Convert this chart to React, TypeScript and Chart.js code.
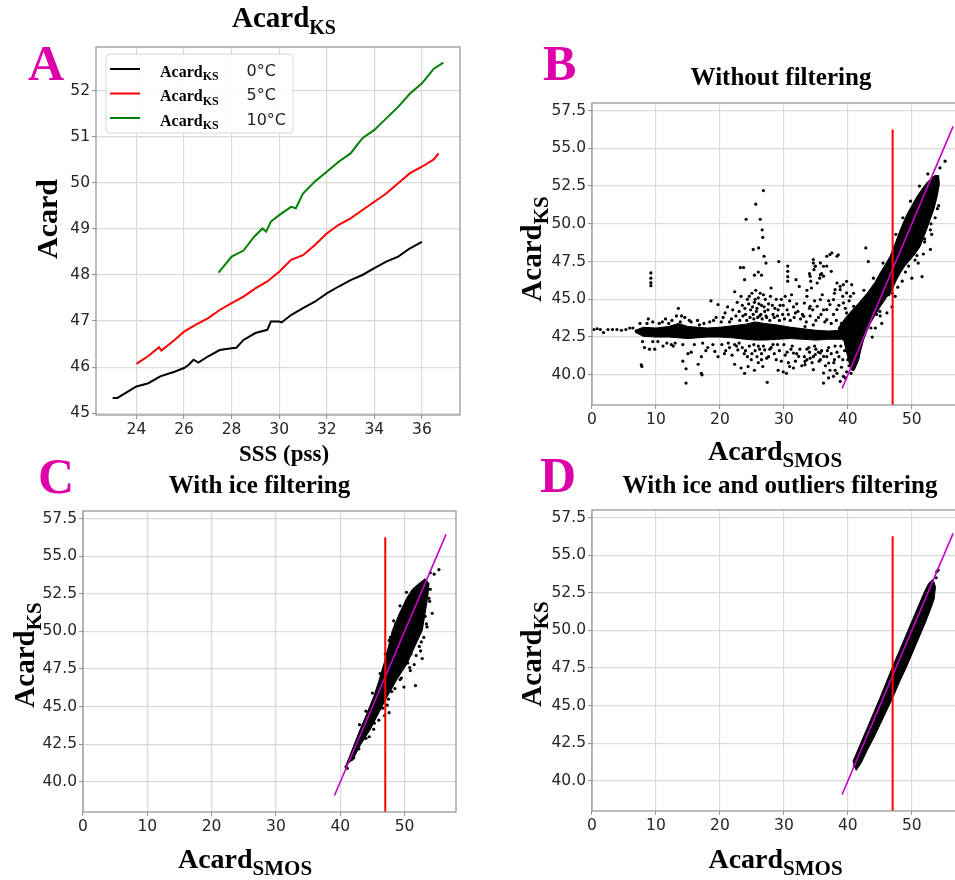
import React, { useEffect, useRef } from "react";
import { Chart, registerables } from "chart.js";

Chart.register(...registerables);

const SERIF = '"Liberation Serif", "Times New Roman", Times, serif';
const SANS = '"DejaVu Sans", sans-serif';
const LETTER_COLOR = "#dd00aa";
const TICK_COLOR = "#262626";
const GRID_COLOR = "#dadada";
const SPINE_COLOR = "#8f8f8f";
const ONE_TO_ONE_COLOR = "#c800c8";

// ---------------- Panel A : Acard_KS vs SSS ----------------
const SSS_0C = [23.0, 23.2, 24, 24.5, 25, 25.6, 26, 26.2, 26.4, 26.6, 27, 27.5, 28, 28.2, 28.5, 29, 29.5, 29.65, 30, 30.1, 30.5, 31, 31.5, 32, 32.5, 33, 33.5, 34, 34.5, 35, 35.5, 36];
const ACARD_0C = [45.33, 45.33, 45.58, 45.65, 45.8, 45.9, 45.98, 46.05, 46.16, 46.1, 46.23, 46.37, 46.41, 46.42, 46.59, 46.74, 46.81, 46.99, 46.99, 46.97, 47.13, 47.28, 47.42, 47.6, 47.75, 47.89, 48.0, 48.15, 48.29, 48.4, 48.58, 48.72];
const SSS_5C = [24, 24.5, 24.95, 25.05, 25.6, 26, 26.5, 27, 27.5, 28, 28.5, 29, 29.5, 30, 30.5, 31, 31.5, 32, 32.5, 33, 33.5, 34, 34.5, 35, 35.5, 36, 36.5, 36.7];
const ACARD_5C = [46.07, 46.24, 46.43, 46.36, 46.59, 46.77, 46.92, 47.06, 47.24, 47.39, 47.53, 47.71, 47.86, 48.07, 48.33, 48.43, 48.65, 48.9, 49.09, 49.23, 49.41, 49.59, 49.77, 49.99, 50.21, 50.35, 50.51, 50.64];
const SSS_10C = [27.45, 28, 28.5, 28.95, 29.3, 29.45, 29.65, 30, 30.5, 30.7, 31, 31.5, 32, 32.5, 33, 33.5, 34, 34.5, 35, 35.5, 36, 36.5, 36.9];
const ACARD_10C = [48.05, 48.4, 48.53, 48.83, 49.01, 48.94, 49.16, 49.3, 49.48, 49.45, 49.77, 50.03, 50.24, 50.46, 50.64, 50.97, 51.15, 51.4, 51.65, 51.94, 52.16, 52.48, 52.61];
const LEGEND_TEMPS = ["0°C", "5°C", "10°C"];
const A_X_TICKS = [24, 26, 28, 30, 32, 34, 36];
const A_Y_TICKS = [45, 46, 47, 48, 49, 50, 51, 52];

// ---------------- Panels B, C, D : Acard_KS vs Acard_SMOS ----------------
const SMOS_X_TICKS = [0, 10, 20, 30, 40, 50];
const KS_Y_TICKS = [40, 42.5, 45, 47.5, 50, 52.5, 55, 57.5];
const ONE_TO_ONE = [39.1, 56.45];
const THRESHOLD_X = 47;
const THRESHOLD_Y = [38, 56.25];

const B_POINTS: [number, number][] = [
  [0.3, 43.0], [0.8, 43.05], [1.3, 43.0], [1.8, 42.8], [2.5, 43.0], [3.2, 43.0], [3.9, 43.0], [4.6, 42.95], [5.3, 43.0], [5.9, 43.1], [6.4, 43.1], [6.9, 42.9],
  [7.5, 43.4], [8.8, 43.7], [9.5, 43.5], [11.0, 43.5], [12.0, 43.4], [13.2, 43.9], [13.5, 44.4], [14.0, 43.9], [14.5, 43.8], [15.5, 43.5], [16.5, 43.6], [17.5, 43.4], [18.6, 44.9], [19.7, 44.65], [19.0, 43.6], [20.5, 43.8], [21.2, 44.5], [21.5, 43.5], [22.3, 45.5], [22.5, 43.9], [23.0, 44.2], [23.5, 44.6], [24.0, 44.0], [24.3, 45.0], [24.6, 45.2], [24.8, 44.3], [25.2, 44.0], [25.4, 44.8], [25.6, 45.6], [25.8, 44.4], [26.0, 45.1], [26.2, 43.9], [26.5, 44.6], [26.8, 45.3], [27.0, 44.2], [27.3, 43.8], [27.6, 44.7], [28.0, 45.75], [28.3, 44.0], [28.6, 44.4], [29.0, 43.9], [29.4, 44.6], [29.8, 44.0], [30.2, 45.2], [30.5, 44.3], [30.9, 44.9], [31.5, 44.5], [31.8, 44.1], [32.4, 45.85], [32.6, 43.7], [33.2, 44.75], [33.3, 43.2], [33.6, 45.6], [34.0, 44.4], [34.1, 43.9], [34.5, 44.3], [34.6, 43.3], [35.4, 43.8], [36.2, 44.3], [36.7, 43.65], [37.2, 44.65], [37.75, 44.0],
  [20.2, 43.5], [20.8, 44.1], [21.8, 43.7], [22.0, 44.3], [22.7, 44.8], [23.1, 43.6], [23.3, 45.2], [23.6, 43.9], [23.9, 44.4], [24.2, 43.6], [24.5, 44.7], [24.7, 43.8], [25.0, 45.4], [25.1, 44.5], [25.3, 43.7], [25.5, 45.0], [25.7, 44.2], [25.9, 43.8], [26.1, 44.7], [26.3, 45.4], [26.4, 44.0], [26.6, 43.7], [26.9, 44.5], [27.1, 45.0], [27.2, 43.9], [27.5, 44.3], [27.8, 43.6], [27.9, 45.2], [28.2, 44.6], [28.5, 43.8], [28.8, 45.0], [29.1, 44.3], [29.3, 43.6], [29.6, 45.0], [29.9, 44.6], [30.1, 43.7], [30.7, 44.0], [31.0, 43.6], [31.2, 45.3], [31.6, 43.8], [32.0, 44.7], [32.2, 44.2],
  [10.5, 43.4], [11.5, 43.7], [12.5, 43.6], [13.0, 42.1], [13.8, 43.5], [14.2, 42.0], [15.2, 43.6], [16.0, 42.0], [16.8, 43.3], [17.3, 42.1], [17.8, 41.6], [18.4, 43.5], [18.9, 42.0], [19.4, 43.8], [11.7, 42.1], [9.5, 42.2], [8.6, 43.4], [7.9, 42.2],
  [32.9, 44.0], [33.5, 43.5], [34.8, 44.9], [35.0, 43.6], [35.8, 44.0], [36.0, 45.3], [36.4, 43.5], [37.0, 44.9], [37.4, 43.4], [37.9, 45.4], [38.2, 43.6], [38.6, 44.6], [39.0, 43.4], [39.2, 45.2], [39.6, 44.4], [40.0, 43.5], [40.2, 44.9],
  [8.2, 41.8], [9.0, 41.7], [9.8, 41.7], [10.3, 42.2], [11.1, 41.9], [12.4, 42.0], [12.7, 41.9], [15.0, 41.4], [15.5, 41.5], [16.6, 40.7], [17.1, 41.2], [18.1, 41.8], [19.2, 41.55], [19.7, 41.2], [20.7, 41.4], [21.5, 41.8], [22.3, 42.0], [22.8, 41.65], [23.8, 41.4], [24.3, 41.2], [24.9, 41.0], [25.5, 41.6], [26.0, 41.9], [26.5, 41.4], [27.0, 41.65], [27.6, 41.2], [28.8, 41.0], [30.0, 42.0], [30.5, 41.5], [31.3, 41.9], [31.5, 41.44], [32.0, 41.4], [32.3, 41.22], [33.2, 41.2], [33.3, 40.89], [34.0, 41.5], [34.1, 41.1], [34.8, 41.9], [34.9, 41.33], [35.4, 41.5], [35.7, 41.0], [36.2, 41.22], [37.0, 40.78], [29.0, 42.0], [28.0, 41.8],
  [20.3, 42.0], [20.9, 41.6], [21.3, 42.1], [21.9, 41.3], [22.6, 41.9], [23.0, 42.1], [23.5, 41.8], [24.0, 41.6], [24.6, 41.9], [25.0, 41.4], [25.3, 42.0], [25.8, 41.2], [26.2, 41.7], [26.8, 41.9], [27.3, 41.1], [27.8, 41.7], [28.3, 42.0], [28.5, 41.4], [29.3, 41.6], [29.6, 40.9], [30.2, 41.3], [30.7, 40.8], [31.1, 41.7], [31.8, 40.9], [32.5, 41.7], [32.8, 40.6], [33.6, 41.0], [33.9, 41.8], [34.4, 40.8], [35.0, 41.7], [35.9, 41.6], [36.5, 40.6], [36.8, 41.6], [37.4, 41.4], [37.9, 41.0], [38.3, 41.5],
  [7.7, 40.66], [7.8, 40.55], [14.2, 40.9], [14.7, 40.4], [14.7, 39.45], [17.1, 40.1], [17.2, 40.0], [22.3, 40.7], [23.3, 40.45], [23.85, 40.1], [24.4, 40.55], [25.4, 40.3], [26.0, 40.8], [26.5, 41.0], [26.7, 40.55], [27.4, 39.5], [29.1, 40.3], [29.9, 40.2], [30.4, 40.1], [30.9, 40.55], [31.5, 40.45], [33.3, 40.67], [34.6, 40.34], [36.2, 40.12], [36.98, 39.79], [37.75, 39.9], [38.8, 39.56], [39.6, 39.79], [36.2, 39.45], [35.5, 40.9], [38.0, 40.3],
  [9.2, 46.75], [9.2, 46.4], [9.2, 46.1], [9.2, 45.9], [23.2, 47.1], [23.7, 47.1], [24.1, 50.3], [25.2, 48.3], [25.6, 51.3], [26.05, 48.4], [26.3, 50.3], [26.6, 49.6], [26.7, 49.1], [26.8, 52.2], [26.9, 47.85], [27.2, 47.4], [25.4, 46.6], [26.0, 46.8], [26.5, 46.6], [23.85, 46.3], [29.2, 47.5], [30.6, 47.2], [30.6, 46.85], [30.6, 46.5], [30.6, 46.2], [31.9, 46.3], [34.0, 46.7], [34.2, 46.2], [34.3, 45.75], [34.6, 47.4], [34.7, 46.96], [34.9, 47.2], [35.6, 46.4], [35.7, 46.63], [36.2, 47.19], [36.7, 47.2], [36.7, 47.85], [37.2, 47.96], [37.4, 46.85], [35.9, 46.7], [38.3, 46.08], [38.8, 45.64], [39.3, 45.97], [39.8, 46.19], [40.6, 45.97], [40.9, 45.4], [34.6, 47.63], [35.7, 47.41], [34.9, 47.19], [34.1, 46.53], [35.2, 46.08], [36.2, 46.53], [37.5, 48.07], [38.3, 47.85], [38.5, 47.95], [38.0, 45.64], [38.8, 45.86], [39.8, 45.42], [37.75, 44.98], [39.3, 44.76], [40.4, 45.2], [38.3, 44.32], [39.8, 44.1], [40.9, 44.54], [35.7, 44.98], [35.2, 44.54], [36.7, 44.32], [33.6, 45.2], [34.1, 44.54], [33.1, 43.87], [42.8, 48.4], [43.2, 47.5],
  [54.4, 53.7], [55.2, 54.15], [53.65, 50.4], [52.9, 49.6], [53.1, 49.3], [52.9, 48.3], [51.0, 47.4], [51.6, 46.5], [50.0, 46.4], [54.2, 51.2], [46.9, 45.4], [47.4, 45.2], [46.9, 44.5], [45.3, 43.4], [45.05, 43.9], [46.1, 44.1], [53.8, 52.0], [54.0, 52.5], [52.0, 48.8], [49.0, 46.8], [48.5, 46.2], [47.8, 45.8], [44.3, 43.1], [43.8, 42.5], [44.5, 44.0], [50.5, 47.6], [51.8, 48.0],
  [47.5, 49.3], [48.6, 50.4], [49.8, 51.5], [51.2, 52.5], [52.5, 53.3], [45.5, 47.4], [44.0, 46.4], [42.5, 45.6], [49.5, 47.2], [50.8, 47.9], [52.0, 49.0], [53.0, 50.0], [54.0, 51.0], [46.4, 45.3], [45.0, 44.2], [43.6, 43.1],
  [37.8, 40.8], [36.7, 41.2], [35.7, 41.45], [34.6, 41.2], [33.6, 41.7], [38.3, 40.1], [37.2, 40.3], [39.3, 39.9], [39.0, 40.5], [38.6, 41.2], [39.5, 41.6], [40.2, 40.6], [40.0, 41.0], [37.0, 41.8], [38.0, 41.9], [39.8, 40.2], [40.5, 40.1], [39.2, 41.0], [38.9, 41.9], [39.4, 42.4], [40.7, 40.6],
];
const B_BAND: [number, number][] = [
  [6.8, 42.95], [8, 43.15], [10, 43.1], [12, 43.2], [13.5, 43.4], [15, 43.2], [18, 43.1], [20, 43.15], [22, 43.25], [24, 43.35], [25.5, 43.5], [27, 43.4], [29, 43.3], [31, 43.15], [33, 43.05], [35, 42.95], [37, 42.9], [39, 42.95], [40.5, 43.15],
  [40.5, 42.15], [39, 42.35], [37, 42.35], [35, 42.3], [33, 42.35], [31, 42.4], [29, 42.35], [27, 42.3], [25.5, 42.3], [24, 42.35], [22, 42.45], [20, 42.5], [18, 42.5], [15, 42.4], [12, 42.5], [10, 42.5], [8, 42.55], [6.8, 42.8],
];
const B_RISE: [number, number][] = [
  [38.5, 43.1], [39.5, 43.7], [40.5, 44.2], [41.8, 44.8], [43.0, 45.4], [44.2, 46.1], [45.05, 46.75], [46.0, 47.4], [46.6, 47.85], [47.4, 48.7], [48.2, 49.6], [49.2, 50.6], [50.0, 51.2], [50.8, 51.8], [51.6, 52.3], [52.3, 52.7], [53.0, 53.0], [53.6, 53.2], [54.2, 53.2],
  [54.3, 52.6], [53.9, 51.7], [53.4, 50.9], [52.8, 50.2], [52.3, 49.6], [51.3, 48.5], [50.5, 48.0], [49.7, 47.6], [48.9, 47.2], [48.2, 46.75], [47.5, 46.2], [46.9, 45.6], [46.0, 45.1], [45.05, 44.5], [44.2, 43.9], [43.5, 43.4], [42.9, 42.8], [42.45, 42.3], [42.0, 41.6], [41.7, 41.0], [41.4, 40.7], [41.0, 40.3], [40.6, 40.3], [40.2, 40.8], [39.8, 41.5], [39.4, 42.2], [38.6, 42.7],
];

const C_POINTS: [number, number][] = [
  [55.35, 54.1], [54.6, 53.8], [54.0, 53.9], [54.3, 51.2], [53.5, 50.3], [53.0, 49.6], [52.75, 48.2], [51.7, 46.4], [49.9, 46.3], [47.6, 44.6], [47.3, 45.1], [46.9, 44.4], [47.5, 45.5], [46.0, 44.1], [45.2, 43.5], [44.5, 43.0], [43.9, 42.9], [42.9, 42.2], [42.1, 41.6], [41.1, 40.9], [50.9, 47.4], [52.5, 48.7], [51.5, 47.8], [48.5, 46.2], [49.3, 46.8], [50.5, 47.9], [53.8, 52.2], [54.0, 52.8], [52.3, 49.0], [48.6, 50.5], [47.8, 49.6], [44.0, 43.6], [43.2, 43.0], [46.4, 45.2], [45.5, 44.6], [41.8, 41.5], [40.9, 41.0], [53.2, 51.0], [49.0, 47.4], [51.0, 48.5],
  [45.0, 45.9], [46.2, 47.2], [47.0, 48.5], [47.6, 49.4], [48.3, 50.7], [49.3, 51.7], [50.3, 52.6], [44.0, 44.7], [43.0, 43.8], [53.9, 52.0], [53.4, 50.5], [52.6, 49.3], [51.8, 48.4], [50.8, 47.6], [49.5, 46.9], [48.0, 46.0], [46.6, 44.9], [45.3, 43.9], [44.0, 42.9],
];
const C_CLOUD: [number, number][] = [
  [40.9, 41.1], [42.0, 42.3], [43.1, 43.5], [44.2, 44.6], [45.2, 45.66], [46.0, 46.7], [46.8, 47.86], [47.5, 49.0], [48.1, 50.06], [49.2, 51.2], [50.4, 52.26], [51.2, 52.8], [52.0, 53.1], [53.2, 53.5],
  [53.8, 53.2], [53.6, 52.26], [53.2, 51.2], [52.75, 50.06], [51.6, 49.0], [50.4, 47.86], [48.8, 46.8], [47.3, 45.66], [46.0, 44.6], [44.7, 43.5], [43.2, 42.5], [42.0, 41.5],
];

const D_POINTS: [number, number][] = [
  [53.9, 53.9], [54.1, 54.0], [53.8, 53.5], [41.0, 41.0], [41.5, 41.6], [42.1, 42.0], [42.6, 42.6], [43.2, 43.1], [43.5, 42.8], [44.2, 43.5], [44.8, 44.2], [41.3, 40.9], [42.8, 42.3], [52.4, 51.6],
];
const D_CLOUD: [number, number][] = [
  [40.8, 41.3], [42.0, 42.5], [43.0, 43.5], [44.0, 44.5], [45.0, 45.5], [46.0, 46.55], [47.0, 47.6], [48.0, 48.6], [49.0, 49.6], [50.0, 50.6], [51.0, 51.6], [52.0, 52.6], [52.6, 53.1], [53.3, 53.4],
  [53.7, 52.9], [53.5, 52.1], [53.1, 51.6], [52.1, 50.5], [51.1, 49.5], [50.1, 48.5], [49.1, 47.5], [48.1, 46.6], [47.1, 45.6], [46.1, 44.7], [45.1, 43.8], [44.1, 42.9], [43.1, 42.1], [42.1, 41.2], [41.3, 40.7],
];

// ---------------- helpers ----------------
type Txt = {
  main: string; sub?: string; x: number; y: number; size: number; subSize?: number;
  rotate?: boolean; align?: "center" | "left"; color?: string; family?: string; weight?: string;
};

function drawRich(ctx: CanvasRenderingContext2D, t: Txt) {
  const family = t.family || SERIF;
  const weight = t.weight || "bold";
  const subSize = t.subSize || Math.round(t.size * 0.7);
  ctx.save();
  ctx.translate(t.x, t.y);
  if (t.rotate) ctx.rotate(-Math.PI / 2);
  ctx.fillStyle = t.color || "#000";
  ctx.textBaseline = "alphabetic";
  ctx.textAlign = "left";
  const mainFont = `${weight} ${t.size}px ${family}`;
  const subFont = `${weight} ${subSize}px ${family}`;
  ctx.font = mainFont;
  const w1 = ctx.measureText(t.main).width;
  let w2 = 0;
  if (t.sub) { ctx.font = subFont; w2 = ctx.measureText(t.sub).width; }
  const sx = (t.align || "center") === "center" ? -(w1 + w2) / 2 : 0;
  ctx.font = mainFont;
  ctx.fillText(t.main, sx, 0);
  if (t.sub) { ctx.font = subFont; ctx.fillText(t.sub, sx + w1, subSize * 0.33); }
  ctx.restore();
}

function axisOpts(min: number, max: number, ticks: number[], fmt: (v: number) => string, fit: (s: any) => void) {
  return {
    type: "linear",
    min, max,
    afterBuildTicks: (s: any) => { s.ticks = ticks.map((v) => ({ value: v })); },
    afterFit: fit,
    ticks: {
      autoSkip: false, maxRotation: 0, minRotation: 0, padding: 2, color: TICK_COLOR,
      font: { family: SANS, size: 15.5 },
      callback: (v: any) => fmt(Number(v)),
    },
    grid: { color: GRID_COLOR, lineWidth: 1.2, drawTicks: true, tickLength: 4, tickColor: SPINE_COLOR, tickWidth: 1 },
    border: { display: false },
  };
}

type Spec = {
  left: number; top: number; w: number; h: number;
  area: { l: number; t: number; r: number; b: number };
  xMin: number; xMax: number; yMin: number; yMax: number;
  xTicks: number[]; yTicks: number[]; yFmt: (v: number) => string;
  datasets: any[]; polygons?: [number, number][][]; texts: Txt[]; legend?: boolean;
};

const pairs = (xs: number[], ys: number[]) => xs.map((x, i) => ({ x, y: ys[i] }));
const pts = (arr: [number, number][]) => arr.map(([x, y]) => ({ x, y }));

function scatterSet(arr: [number, number][]) {
  return {
    data: pts(arr), pointRadius: 1.6, pointHoverRadius: 1.6, pointBorderWidth: 0,
    backgroundColor: "#000", borderColor: "#000", showLine: false, order: 2,
  };
}
function refLines() {
  return [
    { data: [{ x: ONE_TO_ONE[0], y: ONE_TO_ONE[0] }, { x: ONE_TO_ONE[1], y: ONE_TO_ONE[1] }], showLine: true, pointRadius: 0, borderColor: ONE_TO_ONE_COLOR, borderWidth: 1.6, order: 1, fill: false },
    { data: [{ x: THRESHOLD_X, y: THRESHOLD_Y[0] }, { x: THRESHOLD_X, y: THRESHOLD_Y[1] }], showLine: true, pointRadius: 0, borderColor: "#ff0000", borderWidth: 2, order: 0, fill: false },
  ];
}
function lineSet(xs: number[], ys: number[], color: string) {
  return { data: pairs(xs, ys), showLine: true, pointRadius: 0, borderColor: color, backgroundColor: color, borderWidth: 2, tension: 0, fill: false };
}

function drawLegend(ctx: CanvasRenderingContext2D) {
  const colors = ["#000000", "#ff0000", "#008000"];
  const rowsY = [69, 93.5, 118];
  ctx.save();
  const x = 106, y = 54, w = 187, h = 79, r = 4;
  ctx.beginPath();
  ctx.moveTo(x + r, y); ctx.lineTo(x + w - r, y); ctx.quadraticCurveTo(x + w, y, x + w, y + r);
  ctx.lineTo(x + w, y + h - r); ctx.quadraticCurveTo(x + w, y + h, x + w - r, y + h);
  ctx.lineTo(x + r, y + h); ctx.quadraticCurveTo(x, y + h, x, y + h - r);
  ctx.lineTo(x, y + r); ctx.quadraticCurveTo(x, y, x + r, y); ctx.closePath();
  ctx.fillStyle = "rgba(255,255,255,0.85)"; ctx.fill();
  ctx.strokeStyle = "#d6d6d6"; ctx.lineWidth = 1; ctx.stroke();
  rowsY.forEach((ry, i) => {
    ctx.beginPath(); ctx.moveTo(110, ry); ctx.lineTo(140, ry);
    ctx.strokeStyle = colors[i]; ctx.lineWidth = 2; ctx.stroke();
    drawRich(ctx, { main: "Acard", sub: "KS", x: 160, y: ry + 7.5, size: 16, subSize: 12, align: "left" });
    drawRich(ctx, { main: LEGEND_TEMPS[i], x: 246.5, y: ry + 6.5, size: 16, family: SANS, weight: "normal", align: "left", color: "#222" });
  });
  ctx.restore();
}

function buildConfig(spec: Spec) {
  const { area } = spec;
  const decor = {
    id: "decor",
    beforeDatasetsDraw(chart: any) {
      const polys = spec.polygons || [];
      if (!polys.length) return;
      const ctx = chart.ctx; const xs = chart.scales.x; const ys = chart.scales.y; const ca = chart.chartArea;
      ctx.save();
      ctx.beginPath(); ctx.rect(ca.left, ca.top, ca.right - ca.left, ca.bottom - ca.top); ctx.clip();
      for (const poly of polys) {
        ctx.beginPath();
        poly.forEach(([x, y], i) => {
          const px = xs.getPixelForValue(x); const py = ys.getPixelForValue(y);
          if (i === 0) ctx.moveTo(px, py); else ctx.lineTo(px, py);
        });
        ctx.closePath();
        ctx.fillStyle = "#000"; ctx.fill();
        ctx.lineJoin = "round"; ctx.lineWidth = 1; ctx.strokeStyle = "#000"; ctx.stroke();
      }
      ctx.restore();
    },
    afterDraw(chart: any) {
      const ctx = chart.ctx; const ca = chart.chartArea;
      ctx.save();
      ctx.strokeStyle = SPINE_COLOR; ctx.lineWidth = 1.2;
      ctx.strokeRect(ca.left, ca.top, ca.right - ca.left, ca.bottom - ca.top);
      ctx.restore();
      if (spec.legend) drawLegend(ctx);
      for (const t of spec.texts) drawRich(ctx, t);
    },
  };
  return {
    type: "scatter",
    data: { datasets: spec.datasets },
    options: {
      responsive: false, maintainAspectRatio: false, animation: false, devicePixelRatio: 1,
      events: [],
      layout: { padding: { left: 0, top: area.t, right: spec.w - area.r, bottom: 0 } },
      plugins: { legend: { display: false }, tooltip: { enabled: false }, title: { display: false } },
      scales: {
        x: axisOpts(spec.xMin, spec.xMax, spec.xTicks, (v) => String(v), (s: any) => { s.height = spec.h - area.b; }),
        y: axisOpts(spec.yMin, spec.yMax, spec.yTicks, spec.yFmt, (s: any) => { s.width = area.l; }),
      },
    },
    plugins: [decor],
  };
}

function Panel({ spec }: { spec: Spec }) {
  const ref = useRef<HTMLCanvasElement>(null);
  useEffect(() => {
    const chart = new Chart(ref.current as HTMLCanvasElement, buildConfig(spec) as any);
    return () => chart.destroy();
  }, []);
  return (
    <canvas ref={ref} width={spec.w} height={spec.h}
      style={{ position: "absolute", left: spec.left, top: spec.top, width: spec.w, height: spec.h }} />
  );
}

const fmt1 = (v: number) => v.toFixed(1);

const SPEC_A: Spec = {
  left: 0, top: 0, w: 480, h: 470,
  area: { l: 96, t: 47, r: 460, b: 415 },
  xMin: 22.3, xMax: 37.6, yMin: 44.96, yMax: 52.95,
  xTicks: A_X_TICKS, yTicks: A_Y_TICKS, yFmt: (v) => String(v),
  datasets: [lineSet(SSS_0C, ACARD_0C, "#000000"), lineSet(SSS_5C, ACARD_5C, "#ff0000"), lineSet(SSS_10C, ACARD_10C, "#008000")],
  legend: true,
  texts: [
    { main: "Acard", sub: "KS", x: 284, y: 27, size: 29, subSize: 20 },
    { main: "Acard", x: 57, y: 219, size: 30, rotate: true },
    { main: "SSS (pss)", x: 284, y: 461, size: 23 },
    { main: "A", x: 28, y: 80, size: 50, align: "left", color: LETTER_COLOR },
  ],
};

const SPEC_B: Spec = {
  left: 480, top: 0, w: 500, h: 480,
  area: { l: 112, t: 103, r: 483, b: 405 },
  xMin: 0, xMax: 58, yMin: 38, yMax: 58,
  xTicks: SMOS_X_TICKS, yTicks: KS_Y_TICKS, yFmt: fmt1,
  datasets: [scatterSet(B_POINTS), ...refLines()],
  polygons: [B_BAND, B_RISE],
  texts: [
    { main: "Without filtering", x: 301, y: 85, size: 25 },
    { main: "Acard", sub: "KS", x: 61, y: 249, size: 29, subSize: 21, rotate: true },
    { main: "Acard", sub: "SMOS", x: 295, y: 460, size: 28, subSize: 21 },
    { main: "B", x: 63, y: 80, size: 50, align: "left", color: LETTER_COLOR },
  ],
};

const SPEC_C: Spec = {
  left: 0, top: 455, w: 480, h: 425,
  area: { l: 83, t: 56, r: 456, b: 357 },
  xMin: 0, xMax: 58, yMin: 38, yMax: 58,
  xTicks: SMOS_X_TICKS, yTicks: KS_Y_TICKS, yFmt: fmt1,
  datasets: [scatterSet(C_POINTS), ...refLines()],
  polygons: [C_CLOUD],
  texts: [
    { main: "With ice filtering", x: 259.5, y: 38, size: 25 },
    { main: "Acard", sub: "KS", x: 34, y: 200, size: 29, subSize: 21, rotate: true },
    { main: "Acard", sub: "SMOS", x: 245, y: 413, size: 28, subSize: 21 },
    { main: "C", x: 38, y: 38, size: 50, align: "left", color: LETTER_COLOR },
  ],
};

const SPEC_D: Spec = {
  left: 480, top: 455, w: 500, h: 425,
  area: { l: 112, t: 55, r: 483, b: 356 },
  xMin: 0, xMax: 58, yMin: 38, yMax: 58,
  xTicks: SMOS_X_TICKS, yTicks: KS_Y_TICKS, yFmt: fmt1,
  datasets: [scatterSet(D_POINTS), ...refLines()],
  polygons: [D_CLOUD],
  texts: [
    { main: "With ice and outliers filtering", x: 300, y: 38, size: 25 },
    { main: "Acard", sub: "KS", x: 61, y: 199, size: 29, subSize: 21, rotate: true },
    { main: "Acard", sub: "SMOS", x: 295.5, y: 413, size: 28, subSize: 21 },
    { main: "D", x: 60, y: 37, size: 50, align: "left", color: LETTER_COLOR },
  ],
};

export default function App() {
  return (
    <div style={{ position: "absolute", left: 0, top: 0, width: 955, height: 880, overflow: "hidden", background: "#fff" }}>
      <Panel spec={SPEC_A} />
      <Panel spec={SPEC_B} />
      <Panel spec={SPEC_C} />
      <Panel spec={SPEC_D} />
    </div>
  );
}
